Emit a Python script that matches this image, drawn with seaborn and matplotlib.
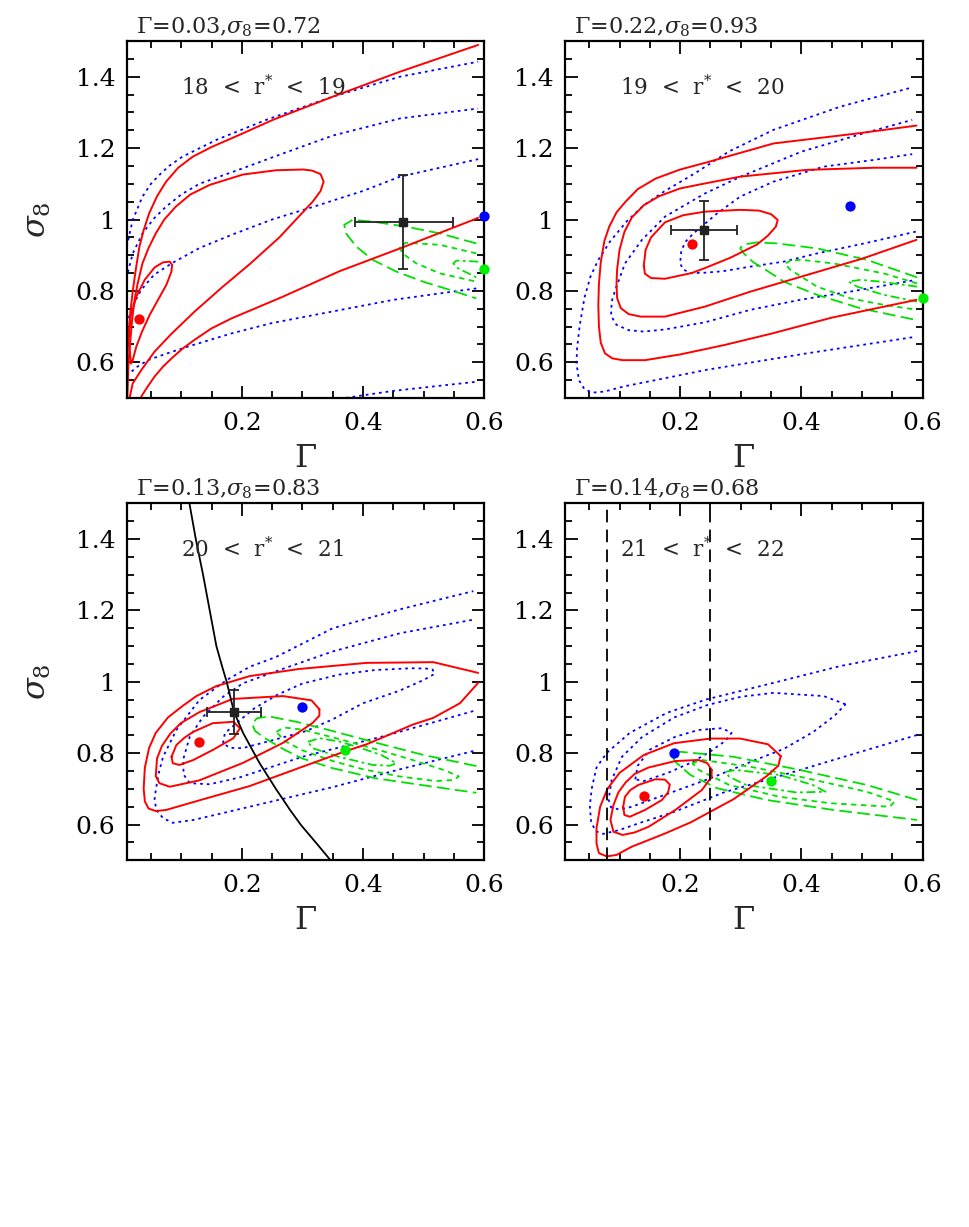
import numpy as np
import pandas as pd
import matplotlib
matplotlib.use("Agg")
import matplotlib.pyplot as plt
import seaborn as sns
from matplotlib.ticker import MultipleLocator, FixedLocator, FixedFormatter

# ---------------- data (Gamma, sigma8) ----------------
TITLES_G = [0.03, 0.22, 0.13, 0.14]
TITLES_S = [0.72, 0.93, 0.83, 0.68]
MAG_LO = [18, 19, 20, 21]
MAG_HI = [19, 20, 21, 22]

# Panel 1 (18 < r* < 19)
P1_RED_1S = [(0.0171,0.597),(0.0132,0.662),(0.0165,0.728),(0.0259,0.784),(0.0397,0.831),(0.0562,0.866),
             (0.070,0.880),(0.081,0.882),(0.085,0.873),(0.0838,0.854),(0.0755,0.817),(0.0617,0.775),
             (0.048,0.733),(0.0353,0.686),(0.0259,0.644),(0.0193,0.602),(0.0171,0.597)]
P1_RED_2S = [(0.0147,0.50),(0.020,0.541),(0.034,0.578),(0.056,0.630),(0.084,0.680),(0.122,0.742),(0.166,0.808),
             (0.213,0.875),(0.262,0.950),(0.295,1.010),(0.317,1.050),(0.330,1.080),(0.335,1.106),(0.330,1.127),
             (0.316,1.137),(0.301,1.140),(0.257,1.138),(0.202,1.126),(0.147,1.097),(0.115,1.07),(0.091,1.036),
             (0.072,1.0),(0.058,0.961),(0.046,0.92),(0.036,0.877),(0.028,0.82),(0.023,0.775),(0.019,0.72),
             (0.016,0.66),(0.013,0.60),(0.011,0.50)]
P1_RED_3S_UP = [(0.590,1.489),(0.461,1.414),(0.350,1.344),(0.251,1.279),(0.200,1.240),(0.150,1.203),(0.119,1.176),
                (0.095,1.145),(0.075,1.106),(0.060,1.065),(0.047,1.017),(0.038,0.97),(0.031,0.924),(0.025,0.86),
                (0.020,0.80),(0.016,0.74),(0.013,0.68),(0.011,0.62),(0.008,0.55)]
P1_RED_3S_LO = [(0.034,0.504),(0.045,0.533),(0.056,0.560),(0.070,0.588),(0.084,0.611),(0.102,0.638),(0.122,0.663),
                (0.150,0.695),(0.183,0.723),(0.268,0.784),(0.361,0.855),(0.461,0.919),(0.582,0.999),(0.590,1.005)]
P1_BLUE_1S = [(0.587,0.807),(0.45,0.775),(0.361,0.746),(0.25,0.71),(0.183,0.681),(0.111,0.644),(0.075,0.624),
              (0.045,0.606),(0.025,0.585),(0.012,0.564),(0.0,0.55),(0.0,0.66),(0.012,0.718),(0.022,0.765),
              (0.034,0.803),(0.055,0.845),(0.084,0.877),(0.13,0.92),(0.183,0.957),(0.25,1.00),(0.317,1.035),
              (0.40,1.08),(0.461,1.12),(0.590,1.169)]
P1_BLUE_2S_UP = [(0.0,0.78),(0.010,0.840),(0.020,0.905),(0.036,0.961),(0.055,1.003),(0.075,1.036),(0.100,1.07),
                 (0.130,1.10),(0.196,1.14),(0.268,1.185),(0.350,1.235),(0.461,1.283),(0.590,1.311)]
P1_BLUE_2S_LO = [(0.35,0.495),(0.45,0.52),(0.590,0.546)]
P1_BLUE_3S = [(0.0,0.87),(0.010,0.924),(0.020,0.999),(0.036,1.064),(0.050,1.100),(0.064,1.125),(0.080,1.150),
              (0.102,1.176),(0.158,1.223),(0.240,1.279),(0.350,1.344),(0.461,1.400),(0.590,1.442)]
P1_GRN_1S = [(0.590,0.882),(0.554,0.885),(0.549,0.877),(0.557,0.863),(0.587,0.838)]
P1_GRN_2S = [(0.587,0.905),(0.527,0.929),(0.471,0.935),(0.460,0.924),(0.465,0.905),(0.488,0.877),(0.527,0.849),(0.587,0.826)]
P1_GRN_3S = [(0.587,0.933),(0.527,0.961),(0.471,0.980),(0.416,0.994),(0.383,0.999),(0.369,0.985),(0.372,0.961),
             (0.389,0.924),(0.416,0.887),(0.455,0.854),(0.499,0.826),(0.543,0.803),(0.587,0.779)]
P1_BLUE_PT = (0.599, 1.010)
P1_GRN_PT = (0.599, 0.860)
P1_CROSS = (0.466, 0.992, 0.386, 0.548, 0.860, 1.125)   # x, y, xlo, xhi, ylo, yhi

# Panel 2 (19 < r* < 20)
P2_RED_1S = [(0.140,0.870),(0.143,0.915),(0.152,0.950),(0.175,0.992),(0.205,1.012),(0.241,1.022),(0.299,1.027),
             (0.330,1.025),(0.350,1.015),(0.361,0.999),(0.358,0.980),(0.345,0.955),(0.327,0.930),(0.283,0.893),
             (0.241,0.864),(0.219,0.850),(0.175,0.834),(0.152,0.836),(0.142,0.848),(0.140,0.870)]
P2_RED_2S = [(0.590,1.145),(0.520,1.145),(0.409,1.139),(0.299,1.120),(0.241,1.101),(0.200,1.087),(0.165,1.065),
             (0.140,1.040),(0.120,1.005),(0.108,0.965),(0.100,0.915),(0.096,0.860),(0.095,0.821),(0.096,0.780),
             (0.102,0.752),(0.115,0.735),(0.135,0.728),(0.175,0.728),(0.241,0.756),(0.316,0.798),(0.40,0.84),
             (0.50,0.89),(0.590,0.943)]
P2_RED_3S = [(0.590,1.263),(0.492,1.241),(0.354,1.213),(0.244,1.160),(0.200,1.140),(0.160,1.115),(0.130,1.085),
             (0.110,1.050),(0.095,1.020),(0.083,0.980),(0.075,0.940),(0.069,0.880),(0.066,0.820),(0.065,0.760),
             (0.066,0.700),(0.069,0.655),(0.076,0.625),(0.088,0.611),(0.105,0.606),(0.142,0.606),(0.20,0.622),
             (0.272,0.648),(0.35,0.680),(0.45,0.725),(0.590,0.775)]
P2_BLUE_1S = [(0.589,0.966),(0.504,0.933),(0.426,0.905),(0.371,0.882),(0.316,0.868),(0.270,0.855),(0.241,0.851),
              (0.218,0.850),(0.205,0.860),(0.200,0.877),(0.202,0.914),(0.210,0.940),(0.222,0.961),(0.261,1.017),
              (0.299,1.064),(0.354,1.106),(0.437,1.148),(0.520,1.167),(0.583,1.183)]
P2_BLUE_2S = [(0.583,0.829),(0.481,0.798),(0.398,0.775),(0.316,0.747),(0.241,0.712),(0.175,0.692),(0.140,0.686),
              (0.115,0.690),(0.095,0.705),(0.086,0.730),(0.087,0.770),(0.093,0.803),(0.109,0.877),(0.137,0.943),
              (0.175,1.008),(0.241,1.073),(0.30,1.12),(0.40,1.19),(0.50,1.24),(0.583,1.279)]
P2_BLUE_3S = [(0.583,0.670),(0.409,0.625),(0.244,0.579),(0.106,0.532),(0.075,0.518),(0.055,0.515),(0.042,0.525),
              (0.033,0.550),(0.029,0.597),(0.030,0.640),(0.034,0.700),(0.042,0.780),(0.052,0.840),(0.065,0.887),
              (0.085,0.940),(0.112,0.995),(0.140,1.040),(0.175,1.08),(0.225,1.13),(0.28,1.19),(0.354,1.251),
              (0.464,1.316),(0.583,1.370)]
P2_GRN_1S = [(0.591,0.812),(0.53,0.826),(0.498,0.831),(0.478,0.826),(0.492,0.812),(0.536,0.789),(0.591,0.770)]
P2_GRN_2S = [(0.591,0.821),(0.536,0.849),(0.453,0.877),(0.40,0.887),(0.382,0.885),(0.373,0.876),(0.382,0.859),
             (0.426,0.812),(0.481,0.779),(0.536,0.761),(0.591,0.747)]
P2_GRN_3S = [(0.591,0.838),(0.508,0.887),(0.426,0.919),(0.36,0.933),(0.327,0.936),(0.305,0.93),(0.299,0.92),
             (0.305,0.905),(0.321,0.88),(0.345,0.855),(0.371,0.826),(0.426,0.789),(0.498,0.751),(0.591,0.718)]
P2_BLUE_PT = (0.481, 1.039)
P2_GRN_PT = (0.601, 0.779)
P2_CROSS = (0.239, 0.971, 0.185, 0.294, 0.887, 1.052)

# Panel 3 (20 < r* < 21)
P3_RED_1S = [(0.084,0.790),(0.092,0.823),(0.105,0.843),(0.120,0.860),(0.152,0.884),(0.186,0.888),(0.197,0.870),
             (0.186,0.842),(0.152,0.809),(0.120,0.781),(0.097,0.767),(0.086,0.772),(0.084,0.790)]
P3_RED_2S = [(0.328,0.923),(0.315,0.948),(0.268,0.960),(0.185,0.952),(0.130,0.915),(0.100,0.885),(0.082,0.855),
             (0.068,0.82),(0.060,0.785),(0.058,0.736),(0.064,0.716),(0.081,0.706),(0.130,0.724),(0.202,0.773),
             (0.268,0.829),(0.317,0.885),(0.328,0.905),(0.328,0.923)]
P3_RED_3S = [(0.590,1.025),(0.516,1.055),(0.406,1.053),(0.295,1.036),(0.213,1.016),(0.158,0.988),(0.125,0.960),
             (0.102,0.932),(0.078,0.900),(0.058,0.857),(0.047,0.815),(0.040,0.760),(0.038,0.700),(0.040,0.665),
             (0.046,0.645),(0.058,0.638),(0.075,0.641),(0.130,0.668),(0.213,0.708),(0.295,0.759),(0.370,0.805),
             (0.406,0.825),(0.482,0.880),(0.516,0.899),(0.560,0.940),(0.590,0.997)]
P3_BLUE_1S = [(0.169,0.828),(0.172,0.856),(0.191,0.884),(0.22,0.925),(0.26,0.965),(0.30,0.995),(0.36,1.02),
              (0.42,1.033),(0.48,1.038),(0.505,1.037),(0.515,1.034),(0.518,1.022),(0.50,1.005),(0.46,0.975),
              (0.40,0.94),(0.35,0.895),(0.306,0.862),(0.25,0.836),(0.201,0.814),(0.18,0.815),(0.169,0.828)]
P3_BLUE_2S = [(0.582,0.918),(0.444,0.852),(0.30,0.79),(0.196,0.732),(0.147,0.713),(0.114,0.716),(0.104,0.74),
              (0.103,0.781),(0.114,0.846),(0.136,0.902),(0.169,0.958),(0.202,0.996),(0.274,1.040),(0.35,1.085),
              (0.461,1.136),(0.582,1.174)]
P3_BLUE_3S = [(0.582,0.806),(0.461,0.755),(0.350,0.705),(0.240,0.661),(0.158,0.628),(0.120,0.613),(0.086,0.605),
              (0.070,0.618),(0.059,0.641),(0.056,0.670),(0.058,0.697),(0.063,0.745),(0.070,0.790),(0.092,0.865),
              (0.130,0.949),(0.175,1.005),(0.213,1.042),(0.257,1.070),(0.35,1.15),(0.461,1.203),(0.582,1.254)]
P3_GRN_1S = [(0.309,0.832),(0.328,0.842),(0.36,0.833),(0.39,0.818),(0.43,0.795),(0.455,0.772),(0.445,0.765),
             (0.416,0.767),(0.36,0.79),(0.317,0.814),(0.309,0.832)]
P3_GRN_2S = [(0.257,0.86),(0.27,0.872),(0.30,0.866),(0.36,0.84),(0.42,0.812),(0.48,0.782),(0.535,0.752),(0.558,0.735),
             (0.55,0.725),(0.52,0.722),(0.46,0.735),(0.40,0.755),(0.35,0.778),(0.30,0.808),(0.27,0.835),(0.257,0.86)]
P3_GRN_3S = [(0.587,0.764),(0.50,0.795),(0.42,0.83),(0.35,0.862),(0.29,0.888),(0.245,0.903),(0.225,0.898),
             (0.217,0.882),(0.222,0.862),(0.24,0.84),(0.27,0.81),(0.30,0.785),(0.35,0.758),(0.42,0.73),(0.50,0.71),
             (0.587,0.689)]
P3_BLACK = [(0.1135,1.5),(0.124,1.40),(0.136,1.30),(0.147,1.20),(0.158,1.10),(0.168,1.04),(0.175,1.0),
            (0.187,0.916),(0.202,0.857),(0.229,0.773),(0.257,0.698),(0.280,0.640),(0.298,0.598),(0.323,0.548),
            (0.345,0.503)]
P3_BLUE_PT = (0.300, 0.929)
P3_GRN_PT = (0.370, 0.809)
P3_CROSS = (0.187, 0.916, 0.142, 0.232, 0.855, 0.977)

# Panel 4 (21 < r* < 22)
P4_RED_1S = [(0.106,0.650),(0.109,0.678),(0.118,0.697),(0.131,0.711),(0.159,0.727),(0.175,0.726),(0.183,0.712),
             (0.180,0.690),(0.170,0.669),(0.142,0.641),(0.117,0.622),(0.108,0.627),(0.106,0.650)]
P4_RED_2S = [(0.252,0.753),(0.245,0.772),(0.230,0.781),(0.192,0.778),(0.148,0.760),(0.125,0.742),(0.110,0.718),
             (0.098,0.690),(0.090,0.655),(0.085,0.613),(0.090,0.580),(0.105,0.571),(0.125,0.578),(0.148,0.594),
             (0.192,0.641),(0.236,0.697),(0.252,0.734),(0.252,0.753)]
P4_RED_3S = [(0.366,0.792),(0.345,0.825),(0.299,0.841),(0.25,0.841),(0.19,0.828),(0.14,0.795),(0.10,0.745),
             (0.080,0.700),(0.068,0.650),(0.062,0.590),(0.062,0.547),(0.066,0.520),(0.079,0.511),(0.095,0.515),
             (0.120,0.538),(0.175,0.575),(0.217,0.606),(0.288,0.671),(0.343,0.736),(0.362,0.765),(0.366,0.792)]
P4_BLUE_1S = [(0.126,0.727),(0.130,0.765),(0.150,0.810),(0.192,0.846),(0.230,0.865),(0.269,0.870),(0.285,0.857),
              (0.275,0.835),(0.250,0.805),(0.22,0.775),(0.18,0.745),(0.14,0.722),(0.126,0.727)]
P4_BLUE_2S = [(0.473,0.937),(0.437,0.960),(0.354,0.969),(0.30,0.958),(0.245,0.935),(0.19,0.900),(0.137,0.845),
              (0.104,0.790),(0.087,0.725),(0.082,0.670),(0.086,0.648),(0.100,0.642),(0.120,0.650),(0.161,0.675),
              (0.249,0.729),(0.33,0.785),(0.371,0.812),(0.42,0.86),(0.455,0.905),(0.473,0.937)]
P4_BLUE_3S = [(0.591,1.086),(0.464,1.044),(0.354,0.997),(0.244,0.951),(0.178,0.913),(0.117,0.857),(0.079,0.801),
              (0.062,0.760),(0.054,0.700),(0.051,0.652),(0.053,0.610),(0.060,0.582),(0.073,0.574),(0.100,0.585),
              (0.134,0.605),(0.189,0.635),(0.272,0.69),(0.398,0.753),(0.50,0.805),(0.591,0.851)]
P4_GRN_1S = [(0.275,0.748),(0.292,0.753),(0.364,0.739),(0.419,0.711),(0.440,0.692),(0.392,0.690),(0.309,0.711),
             (0.281,0.734),(0.275,0.748)]
P4_GRN_2S = [(0.220,0.772),(0.236,0.781),(0.316,0.762),(0.398,0.734),(0.508,0.692),(0.554,0.665),(0.546,0.650),
             (0.447,0.660),(0.364,0.678),(0.281,0.711),(0.231,0.753),(0.220,0.772)]
P4_GRN_3S = [(0.591,0.669),(0.508,0.711),(0.398,0.753),(0.288,0.790),(0.200,0.804),(0.186,0.795),(0.192,0.776),
             (0.217,0.739),(0.261,0.702),(0.343,0.669),(0.453,0.641),(0.591,0.613)]
P4_VLINES = [0.08, 0.25]
P4_BLUE_PT = (0.190, 0.801)
P4_GRN_PT = (0.350, 0.722)

X_TICKS = [0.2, 0.4, 0.6]
X_TICK_LABELS = ["0.2", "0.4", "0.6"]
Y_TICKS = [0.6, 0.8, 1.0, 1.2, 1.4]
Y_TICK_LABELS = ["0.6", "0.8", "1", "1.2", "1.4"]

# ---------------- style ----------------
sns.set_style("ticks")
plt.rcParams['font.family'] = ['DejaVu Serif']
plt.rcParams['mathtext.fontset'] = 'dejavuserif'

RED = '#ff0000'
BLUE = '#0000ff'
GREEN = '#00e000'
GREEN_PT = '#00ee00'
RED_LS = '-'
BLUE_LS = (0, (1.5, 2.2))
GRN_LS = {1: (0, (5, 2, 1.5, 2)), 2: (0, (3, 2.5)), 3: (0, (7, 3))}

fig = plt.figure(figsize=(9.69, 12.27), dpi=100)
W, H = 969.0, 1227.0
pos = [(126.7, 41), (565.0, 41), (126.7, 503.3), (565.0, 503.3)]
axes = [fig.add_axes([l / W, 1 - (t + 357) / H, 357.5 / W, 357 / H]) for (l, t) in pos]


def curve(ax, pts, color, ls, lw):
    df = pd.DataFrame(pts, columns=['g', 's'])
    sns.lineplot(data=df, x='g', y='s', sort=False, estimator=None, ax=ax,
                 color=color, linestyle=ls, linewidth=lw, solid_joinstyle='round')


def dot(ax, pt, color):
    sns.scatterplot(x=[pt[0]], y=[pt[1]], ax=ax, color=color, s=55, linewidth=0,
                    zorder=6, clip_on=False)


def cross(ax, c):
    x, y, xlo, xhi, ylo, yhi = c
    ax.errorbar([x], [y], xerr=[[x - xlo], [xhi - x]], yerr=[[y - ylo], [yhi - y]],
                fmt='s', color='#222222', ms=5.5, capsize=3.8, elinewidth=1.3,
                capthick=1.3, zorder=7)


panels = [
    dict(red=[P1_RED_1S, P1_RED_2S, P1_RED_3S_UP, P1_RED_3S_LO],
         blue=[P1_BLUE_1S, P1_BLUE_2S_UP, P1_BLUE_2S_LO, P1_BLUE_3S],
         green=[(1, P1_GRN_1S), (2, P1_GRN_2S), (3, P1_GRN_3S)],
         bpt=P1_BLUE_PT, gpt=P1_GRN_PT, cross=P1_CROSS),
    dict(red=[P2_RED_1S, P2_RED_2S, P2_RED_3S],
         blue=[P2_BLUE_1S, P2_BLUE_2S, P2_BLUE_3S],
         green=[(1, P2_GRN_1S), (2, P2_GRN_2S), (3, P2_GRN_3S)],
         bpt=P2_BLUE_PT, gpt=P2_GRN_PT, cross=P2_CROSS),
    dict(red=[P3_RED_1S, P3_RED_2S, P3_RED_3S],
         blue=[P3_BLUE_1S, P3_BLUE_2S, P3_BLUE_3S],
         green=[(1, P3_GRN_1S), (2, P3_GRN_2S), (3, P3_GRN_3S)],
         bpt=P3_BLUE_PT, gpt=P3_GRN_PT, cross=P3_CROSS),
    dict(red=[P4_RED_1S, P4_RED_2S, P4_RED_3S],
         blue=[P4_BLUE_1S, P4_BLUE_2S, P4_BLUE_3S],
         green=[(1, P4_GRN_1S), (2, P4_GRN_2S), (3, P4_GRN_3S)],
         bpt=P4_BLUE_PT, gpt=P4_GRN_PT, cross=None),
]

for i, (ax, p) in enumerate(zip(axes, panels)):
    for c in p['blue']:
        curve(ax, c, BLUE, BLUE_LS, 1.3)
    for lev, c in p['green']:
        curve(ax, c, GREEN, GRN_LS[lev], 1.3)
    for c in p['red']:
        curve(ax, c, RED, RED_LS, 1.4)
    if i == 2:
        curve(ax, P3_BLACK, 'black', '-', 1.3)
    if i == 3:
        for v in P4_VLINES:
            ax.axvline(v, color='black', linestyle=(0, (7, 4)), linewidth=1.3)
    dot(ax, (TITLES_G[i], TITLES_S[i]), RED)
    dot(ax, p['bpt'], BLUE)
    dot(ax, p['gpt'], GREEN_PT)
    if p['cross'] is not None:
        cross(ax, p['cross'])

    ax.set_xlim(0.01, 0.6)
    ax.set_ylim(0.5, 1.5)
    ax.xaxis.set_major_locator(FixedLocator(X_TICKS))
    ax.xaxis.set_major_formatter(FixedFormatter(X_TICK_LABELS))
    ax.yaxis.set_major_locator(FixedLocator(Y_TICKS))
    ax.yaxis.set_major_formatter(FixedFormatter(Y_TICK_LABELS))
    ax.xaxis.set_minor_locator(MultipleLocator(0.05))
    ax.yaxis.set_minor_locator(MultipleLocator(0.05))
    ax.tick_params(which='both', direction='in', top=True, right=True, width=1.3, colors='black')
    ax.tick_params(which='major', length=9)
    ax.tick_params(which='minor', length=5)
    ax.tick_params(axis='x', which='major', pad=10, labelsize=18)
    ax.tick_params(axis='y', which='major', pad=8, labelsize=18)
    for s in ax.spines.values():
        s.set_linewidth(1.6)
        s.set_color('black')
        s.set_visible(True)
    ax.set_xlabel('')
    ax.set_ylabel('')
    ax.text(0.5, -0.17, 'Γ', transform=ax.transAxes, ha='center', va='center', fontsize=23)
    if i in (0, 2):
        ax.text(-0.25, 0.5, r'$\sigma_8$', transform=ax.transAxes, ha='center', va='center',
                fontsize=23, rotation=90)
    ax.text(0.026, 1.022, 'Γ=%.2f,$\\sigma_8$=%.2f' % (TITLES_G[i], TITLES_S[i]),
            transform=ax.transAxes, ha='left', va='baseline', fontsize=16)
    ax.text(0.10, 1.37, '%d  <  r$^{*}$  <  %d' % (MAG_LO[i], MAG_HI[i]),
            ha='left', va='center', fontsize=15.5)

fig.savefig('out.png', dpi=100)
